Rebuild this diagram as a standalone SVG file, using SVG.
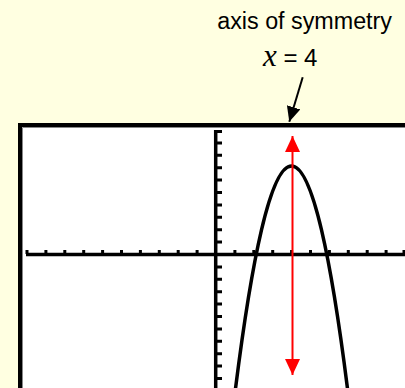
<svg xmlns="http://www.w3.org/2000/svg" width="405" height="388" viewBox="0 0 405 388">
<defs>
<style>
.lbl{font-family:"Liberation Sans",Arial,sans-serif;fill:#000}
.ax{stroke:#000;stroke-width:3.5;fill:none}
.tk{stroke:#000;stroke-width:3;fill:none}
</style>
<clipPath id="scr"><rect x="22" y="127" width="383" height="261"/></clipPath>
<marker id="ah" markerWidth="15" markerHeight="14" refX="15" refY="7" orient="auto" markerUnits="userSpaceOnUse"><path d="M0,0 L15,7 L0,14 Z" fill="#000"/></marker>
<marker id="rh" markerWidth="16" markerHeight="15" refX="16" refY="7.5" orient="auto" markerUnits="userSpaceOnUse"><path d="M0,0 L16,7.5 L0,15 Z" fill="#f00"/></marker>
</defs>
<rect width="405" height="388" fill="#FFFFE1"/>
<g id="label">
<text class="lbl" x="392" y="29" font-size="23.3" text-anchor="end">axis of symmetry</text>
<text x="263" y="66"><tspan font-family="'Liberation Serif',serif" font-style="italic" font-size="31">x</tspan><tspan class="lbl" font-size="24"> = 4</tspan></text>
</g>
<g id="screen">
<rect x="20" y="125" width="400" height="280" fill="#fff" stroke="#000" stroke-width="4"/>
<path d="M22.5,388 V127.5 H405" stroke="#888" stroke-width="1" fill="none"/>
<g clip-path="url(#scr)">
<g id="axes">
<path class="ax" d="M26,254.5 H405 M215.7,130 V388"/>
<path class="tk" d="M27,254 v-4 M45.9,254 v-4 M64.8,254 v-4 M83.7,254 v-4 M102.6,254 v-4 M121.5,254 v-4 M140.4,254 v-4 M159.3,254 v-4 M178.2,254 v-4 M197.1,254 v-4 M234.9,254 v-4 M253.8,254 v-4 M272.7,254 v-4 M291.6,254 v-4 M310.5,254 v-4 M329.4,254 v-4 M348.3,254 v-4 M367.2,254 v-4 M386.1,254 v-4 M404,254 v-4"/>
<path class="tk" d="M216,131.5 h6 M216,142.9 h6 M216,155.3 h6 M216,167.7 h6 M216,180.1 h6 M216,192.5 h6 M216,204.9 h6 M216,217.3 h6 M216,229.7 h6 M216,242.1 h6 M216,266.9 h6 M216,279.3 h6 M216,291.7 h6 M216,304.1 h6 M216,316.5 h6 M216,328.9 h6 M216,341.3 h6 M216,353.7 h6 M216,366.1 h6 M216,378.5 h6"/>
</g>
<g id="parabola">
<path d="M231.5,421.6 Q291.5,-89.6 351.5,421.6" stroke="#000" stroke-width="3.5" fill="none"/>
</g>
</g>
</g>
<g id="connectors">
<path d="M292.5,250 V136" stroke="#f00" stroke-width="2" marker-end="url(#rh)"/>
<path d="M292.5,250 V375" stroke="#f00" stroke-width="2" marker-end="url(#rh)"/>
<path d="M302.7,77.3 L289.3,121.7" stroke="#000" stroke-width="2" marker-end="url(#ah)"/>
</g>
</svg>
